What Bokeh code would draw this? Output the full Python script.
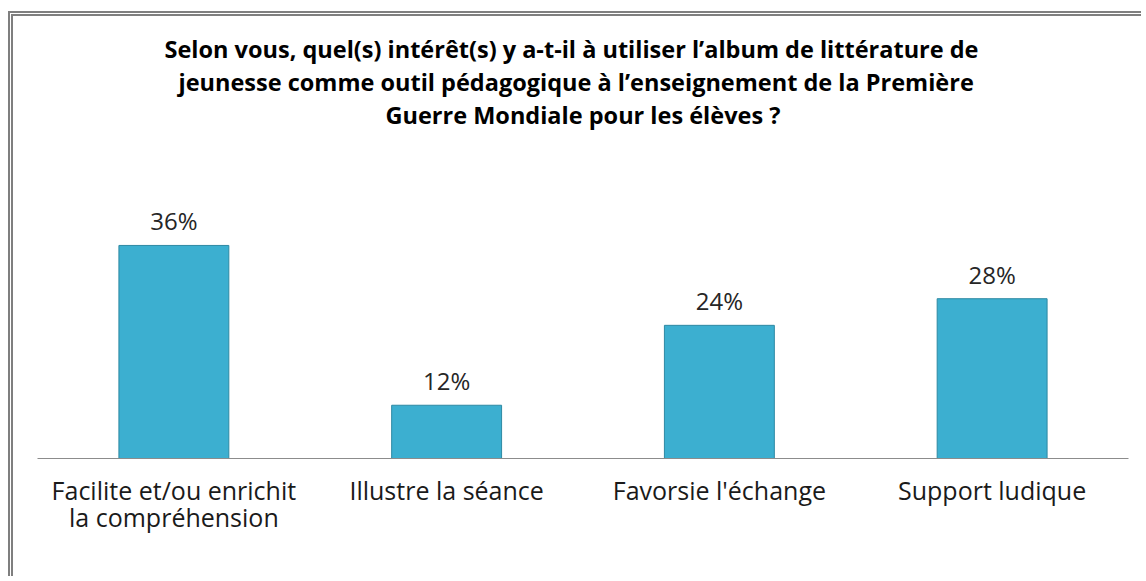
from bokeh.plotting import figure
from bokeh.models import ColumnDataSource, LabelSet, Range1d, Title
from bokeh.core.properties import value
from bokeh.embed import file_html
from bokeh.resources import INLINE

categories = ["Facilite et/ou enrichit\nla compréhension", "Illustre la séance",
              "Favorsie l'échange", "Support ludique"]
values = [36, 12, 24, 28]
value_labels = ["36%", "12%", "24%", "28%"]

title_lines = ["Selon vous, quel(s) intérêt(s) y a-t-il  à utiliser l\u2019album  de littérature de",
               "jeunesse comme outil pédagogique à l\u2019enseignement de la Première",
               "Guerre Mondiale pour les élèves ?"]

src = ColumnDataSource(dict(cat=categories, val=values, lab=value_labels))

p = figure(x_range=categories, y_range=Range1d(4, 42),
           width=1133, height=565, output_backend="svg", toolbar_location=None,
           min_border_left=24, min_border_right=18, min_border_top=189, min_border_bottom=123,
           styles={"border-left": "5px double #7f7f7f", "border-top": "5px double #7f7f7f",
                   "margin-top": "11px", "margin-left": "8px"})
p.title = None

p.vbar(x="cat", top="val", bottom=0, width=0.403, source=src,
       fill_color="#3CAFD0", line_color="#2E89A3", line_width=1)

p.add_layout(LabelSet(x="cat", y="val", text="lab", source=src, text_align="center",
                      text_baseline="bottom", y_offset=8, text_font=value("Open Sans"),
                      text_font_size="24px", text_color="#262626"))

# spacer between the frame and the title block
p.add_layout(Title(text=" ", text_font_size="1px", standoff=72), "above")
offsets = [127, 141, 348]
for line, off in zip(reversed(title_lines), reversed(offsets)):
    p.add_layout(Title(text=line, align="left", text_font="Open Sans", text_font_size="23.5px",
                       text_font_style="bold", text_color="#000000", standoff=-1, offset=off),
                 "above")

p.yaxis.visible = False
p.xgrid.visible = False
p.ygrid.visible = False
p.outline_line_color = None
p.xaxis.axis_line_color = "#8c8c8c"
p.xaxis.major_tick_line_color = None
p.xaxis.minor_tick_line_color = None
p.xaxis.major_label_text_font = "Open Sans"
p.xaxis.major_label_text_font_size = "25px"
p.xaxis.major_label_text_color = "#1a1a1a"
p.xaxis.major_label_text_line_height = 0.82
p.xaxis.major_label_standoff = 8

open("out.html", "w").write(file_html(p, INLINE))
